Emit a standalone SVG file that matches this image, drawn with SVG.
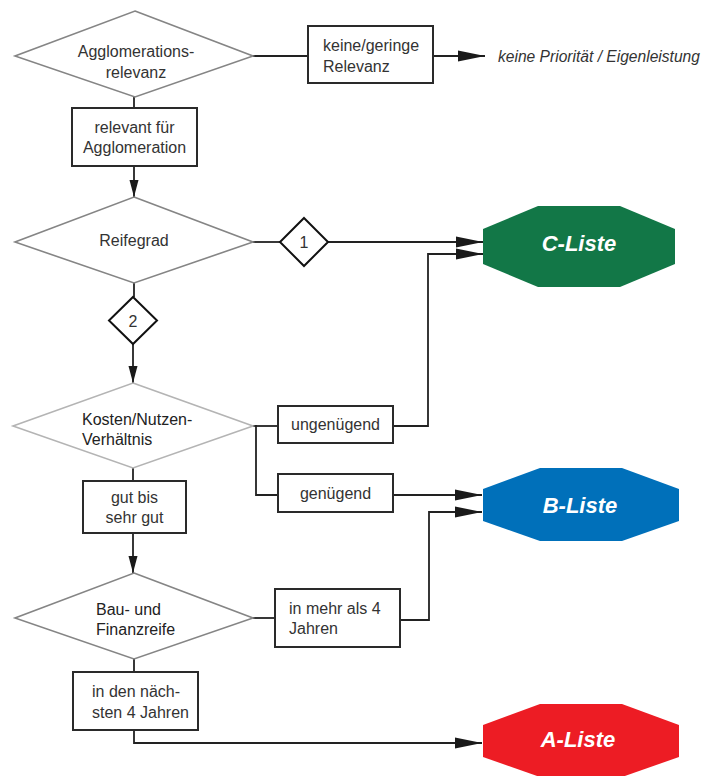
<svg xmlns="http://www.w3.org/2000/svg" width="706" height="776" viewBox="0 0 706 776">
<defs>
<style>
.t{font-family:"Liberation Sans",Arial,sans-serif;font-size:16px;fill:#333}
.td{font-family:"Liberation Sans",Arial,sans-serif;font-size:16px;fill:#222}
.it{font-family:"Liberation Sans",Arial,sans-serif;font-size:15.6px;font-style:italic;fill:#333}
.lt{font-family:"Liberation Sans",Arial,sans-serif;font-size:22px;font-weight:bold;font-style:italic;fill:#fff}
.dm{fill:#fff;stroke:#858585;stroke-width:1.6}
.dml{fill:#fff;stroke:#b4b4b4;stroke-width:1.6}
.bx{fill:#fff;stroke:#2a2a2a;stroke-width:2}
.sd{fill:#fff;stroke:#111;stroke-width:2}
.cn{fill:none;stroke:#222;stroke-width:1.8}
</style>
<marker id="ah" markerUnits="userSpaceOnUse" markerWidth="27" markerHeight="12" refX="27" refY="6" orient="auto">
<path d="M0,0.5 L27,6 L0,11.5 z" fill="#1a1a1a"/>
</marker>
<marker id="av" markerUnits="userSpaceOnUse" markerWidth="17" markerHeight="10" refX="17" refY="5" orient="auto">
<path d="M0,0.5 L17,5 L0,9.5 z" fill="#1a1a1a"/>
</marker>
</defs>
<rect width="706" height="776" fill="#fff"/>

<g id="connectors">
<path class="cn" d="M253,56 H308"/>
<path class="cn" d="M433,56 H485" marker-end="url(#ah)"/>
<path class="cn" d="M134,96 V108"/>
<path class="cn" d="M134,166 V197" marker-end="url(#av)"/>
<path class="cn" d="M253,242 H280"/>
<path class="cn" d="M328,242 H483" marker-end="url(#ah)"/>
<path class="cn" d="M134,283 V297"/>
<path class="cn" d="M133,344 V383" marker-end="url(#av)"/>
<path class="cn" d="M253,426 H256 V495 H278"/>
<path class="cn" d="M256,426 H278"/>
<path class="cn" d="M393,426 H428 V254 H483" marker-end="url(#ah)"/>
<path class="cn" d="M393,495 H482" marker-end="url(#ah)"/>
<path class="cn" d="M133,468 V481"/>
<path class="cn" d="M133,533 V573" marker-end="url(#av)"/>
<path class="cn" d="M253,618 H275"/>
<path class="cn" d="M400,620 H429 V512 H482" marker-end="url(#ah)"/>
<path class="cn" d="M134,659 V672"/>
<path class="cn" d="M134,730 V743 H482" marker-end="url(#ah)"/>
</g>

<g id="n-agglo">
<polygon class="dm" points="135,11 253,56 135,97 15,56"/>
<text class="t" x="136" y="57" text-anchor="middle">Agglomerations-</text>
<text class="t" x="136" y="77.5" text-anchor="middle">relevanz</text>
</g>

<g id="n-keine">
<rect class="bx" x="308" y="26" width="125" height="57"/>
<text class="t" x="323" y="51">keine/geringe</text>
<text class="t" x="323" y="71.5">Relevanz</text>
</g>

<g id="n-prio">
<text class="it" x="498" y="62">keine Priorität / Eigenleistung</text>
</g>

<g id="n-relevant">
<rect class="bx" x="72" y="108" width="125" height="58"/>
<text class="t" x="134.5" y="132.5" text-anchor="middle">relevant für</text>
<text class="t" x="134.5" y="153" text-anchor="middle">Agglomeration</text>
</g>

<g id="n-reife">
<polygon class="dm" points="134,197 253,242 134,283 15,242"/>
<text class="t" x="134" y="246" text-anchor="middle">Reifegrad</text>
</g>

<g id="n-d1">
<polygon class="sd" points="304,218 328,242 304,266 280,242"/>
<text class="t" x="304" y="248" text-anchor="middle">1</text>
</g>

<g id="n-d2">
<polygon class="sd" points="133,297 157,320.5 133,344 109,320.5"/>
<text class="t" x="133" y="326.5" text-anchor="middle">2</text>
</g>

<g id="n-c">
<polygon points="538,206 620,206 675,229 675,264 620,287 538,287 483,264 483,229" fill="#127747"/>
<text class="lt" x="579" y="251" text-anchor="middle">C-Liste</text>
</g>

<g id="n-kosten">
<polygon class="dml" points="133,383 253,426 133,468 13,426"/>
<text class="td" x="82" y="424.5">Kosten/Nutzen-</text>
<text class="td" x="82" y="445">Verhältnis</text>
</g>

<g id="n-ungen">
<rect class="bx" x="278" y="406" width="115" height="37"/>
<text class="t" x="335.5" y="430" text-anchor="middle">ungenügend</text>
</g>

<g id="n-gen">
<rect class="bx" x="278" y="474" width="115" height="38"/>
<text class="t" x="335.5" y="498.5" text-anchor="middle">genügend</text>
</g>

<g id="n-b">
<polygon points="540,468 622,468 679,489 679,521 622,541 540,541 483,521 483,489" fill="#0070BA"/>
<text class="lt" x="580" y="512.5" text-anchor="middle">B-Liste</text>
</g>

<g id="n-gut">
<rect class="bx" x="83" y="481" width="103" height="52"/>
<text class="t" x="134.5" y="502.5" text-anchor="middle">gut bis</text>
<text class="t" x="134.5" y="523" text-anchor="middle">sehr gut</text>
</g>

<g id="n-bau">
<polygon class="dm" points="134,573 253,618 134,659 15,618"/>
<text class="td" x="96" y="614.5">Bau- und</text>
<text class="td" x="96" y="635">Finanzreife</text>
</g>

<g id="n-mehr">
<rect class="bx" x="275" y="589" width="125" height="58"/>
<text class="t" x="289" y="613.5">in mehr als 4</text>
<text class="t" x="289" y="634">Jahren</text>
</g>

<g id="n-naechst">
<rect class="bx" x="73" y="672" width="125" height="58"/>
<text class="t" x="92" y="697">in den näch-</text>
<text class="t" x="92" y="717.5">sten 4 Jahren</text>
</g>

<g id="n-a">
<polygon points="540,704 622,704 679,725 679,757 622,777 540,777 483,757 483,725" fill="#ED1C24"/>
<text class="lt" x="578" y="746.5" text-anchor="middle">A-Liste</text>
</g>
</svg>
